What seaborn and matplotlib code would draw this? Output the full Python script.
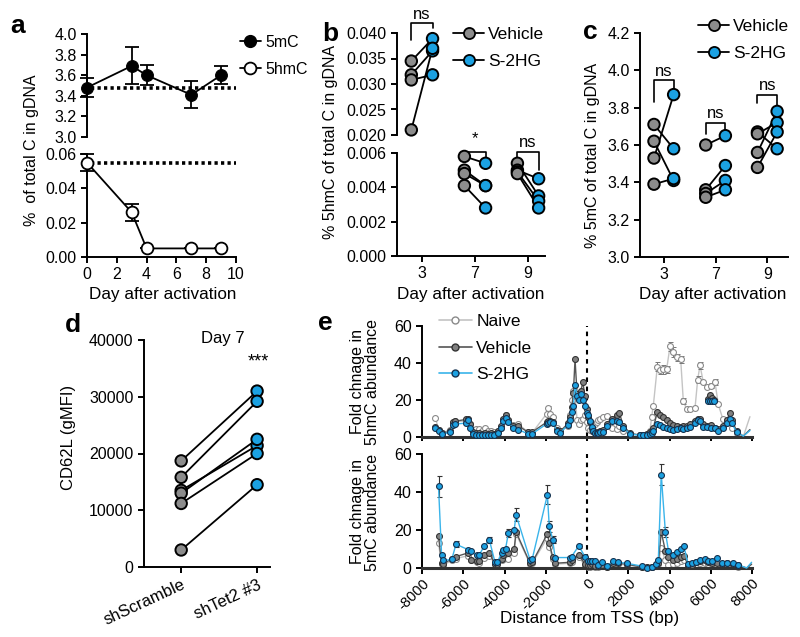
import numpy as np
import pandas as pd
import seaborn as sns
import matplotlib.pyplot as plt
from matplotlib.lines import Line2D

sns.set_style("ticks")
plt.rcParams['font.family'] = ['Liberation Sans', 'DejaVu Sans']
plt.rcParams.update({
    'axes.linewidth': 1.4, 'xtick.major.width': 1.4, 'ytick.major.width': 1.4,
    'xtick.major.size': 4, 'ytick.major.size': 4, 'font.size': 11.5,
    'xtick.labelsize': 11.5, 'ytick.labelsize': 11.5,
    'axes.edgecolor': 'black', 'xtick.color': 'black', 'ytick.color': 'black',
    'text.color': 'black', 'axes.labelcolor': 'black',
})

GREY = '#8c8c8c'
BLUE = '#1ba1e2'

# ---- a: global 5mC / 5hmC over time
a_days = [0, 3, 4, 7, 9]
a_5mc = [3.48, 3.69, 3.60, 3.41, 3.60]
a_5mc_err = [0.09, 0.18, 0.10, 0.13, 0.09]
a_5hmc = [0.055, 0.026, 0.005, 0.005, 0.005]
a_5hmc_err = [0.005, 0.005, 0.0, 0.0, 0.0]
a_5mc_base = 3.48
a_5hmc_base = 0.055

# ---- b: 5hmC, vehicle vs S-2HG (pairs)
day_labels = ['3', '7', '9']
b_vehicle = [[0.0345, 0.0318, 0.0308, 0.0210],
             [0.0058, 0.0050, 0.0048, 0.0041],
             [0.0054, 0.0050, 0.0049, 0.0048]]
b_s2hg = [[0.0389, 0.0365, 0.0318, 0.0370],
          [0.0054, 0.0041, 0.0041, 0.0028],
          [0.0035, 0.0045, 0.0032, 0.0028]]

# ---- c: 5mC, vehicle vs S-2HG (pairs)
c_vehicle = [[3.71, 3.62, 3.53, 3.39],
             [3.60, 3.36, 3.34, 3.32],
             [3.67, 3.66, 3.56, 3.48]]
c_s2hg = [[3.58, 3.41, 3.87, 3.42],
          [3.65, 3.49, 3.41, 3.36],
          [3.58, 3.72, 3.78, 3.67]]

# ---- d: CD62L day 7
d_groups = ['shScramble', 'shTet2 #3']
d_scramble = [18700, 15800, 13500, 13000, 11200, 3000]
d_tet2 = [31000, 29200, 21400, 22500, 20000, 14500]

# ---- e top: 5hmC fold change along the locus
e_top_pos = [-7350, -7200, -7050, -6640, -6500, -6400, -5870, -5750, -5670, -5530,
             -5400, -5250, -5100, -4950, -4800, -4650, -4500, -4320, -4190, -4060,
             -3930, -3810, -3570, -3330, -2840, -2680, -1960, -1890, -1800, -1630,
             -1470, -1310, -900, -820, -740, -660, -580, -480, -400, -300,
             -200, -100, -20, 60, 145, 225, 305, 390, 470, 550,
             630, 790, 955, 1200, 1440, 1570, 1760, 2100, 2570, 2730,
             2890, 3050, 3135, 3216, 3410, 3540, 3700, 3860, 4024, 4185,
             4380, 4542, 4670, 4830, 5000, 5236, 5366, 5479, 5640, 5800,
             5996, 6206, 6366, 6578, 6771, 6933, 7015, 7257, 7580, 7900]
e_top_naive = [10.5, 4, 2, 4, 7.5, 8.5, 8.5, 9.5, 7, 4,
               4.5, 4.5, 3, 5, 3, 3.5, 2.5, 3, 5, 9,
               12, 9, 6.5, 7, 2.5, 2, 12.5, 15.5, 12.5, 11,
               5, 3, 6, 12, 20, 25, 22, 9, 7, 9,
               9.5, 12, 8, 5, 4, 3, 4, 7, 8, 9,
               10, 11, 11.5, 5, 4.5, 6, 3, 1.5, 1, 1,
               1.5, 3, 11, 17, 38, 36, 36.5, 36.5, 49, 46,
               43, 42, 19.5, 15, 15, 15.5, 31, 38.7, 29.6, 27,
               27.8, 29.6, 17.6, 10, 9, 8, 5, 2, 0.3, 11]
e_top_vehicle = [5.5, 4, 2, 3, 8, 8.5, 9.5, 10, 7, 2.5,
                 2, 2, 1.5, 2, 1.5, 2, 1.5, 3, 6, 10,
                 12, 9, 6, 6, 2.5, 2.5, 8, 8.5, 8.5, 8,
                 4, 3, 7.5, 11, 16, 24, 42, 23, 21, 25,
                 29.5, 22, 15, 11, 8, 5, 3, 2, 2, 2.5,
                 3, 4, 7, 10, 12, 13, 6, 2, 1, 1,
                 1.5, 2.5, 3, 5, 13.5, 12, 11, 9, 7.5, 6.5,
                 6, 5.5, 6, 6, 7, 8.5, 10, 9.5, 7, 6,
                 6.5, 5, 4.5, 6, 9, 13, 9, 3, 0.5, 4]
e_top_s2hg = [4.8, 3.5, 1.5, 2.5, 6.5, 7, 7.5, 9, 5, 1.5,
              1, 1, 1, 1, 1, 1, 1, 2, 4.8, 8.5,
              10.5, 8, 4.7, 4, 1.6, 1.6, 7, 7.5, 8, 7.6,
              3.3, 2.3, 6.5, 9, 13.5, 17, 28, 22, 20, 23,
              20, 17, 13, 12, 8.5, 5.5, 3, 2, 2, 2,
              2.5, 2.5, 6, 8.5, 8.5, 8, 5, 1.5, 1, 1,
              1, 1.5, 2, 3, 7, 6.5, 5.5, 5, 4.5, 4,
              4.5, 4.6, 4.5, 5, 5.6, 7.4, 9, 8.7, 5.6, 5.2,
              4.6, 4.6, 3.5, 4.6, 7.4, 9.6, 7.4, 2.7, 0.5, 3.5]
e_top_naive_err_pos = [-1890, 3135, 3410, 3540, 3700, 3860, 4024, 4185, 4380, 4542,
                       4670, 5366, 5479, 5996, 6206]
e_top_naive_err = [1.5, 1.5, 2.5, 2, 2.5, 2, 2.5, 2.5, 2, 2,
                   1.5, 2, 2, 1.5, 1.5]
# separate probe cluster near +6 kb
e_top_extra_pos = [5870, 5960, 6050, 6140]
e_top_extra_vehicle = [20.5, 22.6, 21, 20]
e_top_extra_s2hg = [19.6, 19.6, 19.6, 19.6]

# ---- e bottom: 5mC fold change along the locus
e_bot_pos = [-7200, -7050, -6960, -6560, -6350, -5750, -5640, -5350, -5220, -4990,
             -4735, -4460, -4350, -4140, -4060, -3950, -3810, -3530, -3440, -2760,
             -2650, -1920, -1830, -1665, -1550, -840, -750, -400, -100, 60,
             150, 226, 388, 550, 712, 955, 1276, 1520, 1923, 2650,
             2890, 3135, 3345, 3458, 3600, 3800, 3950, 4185, 4350, 4540,
             4700, 4900, 5100, 5300, 5500, 5700, 5850, 6050, 6280, 6530,
             6800, 7060, 7340, 7740, 7980]
e_bot_naive = [13, 2, 1.5, 4, 5, 6.5, 4, 3, 2.5, 5.5,
               6.5, 2, 2, 4, 5, 7, 5, 8, 18, 2,
               2.5, 16, 11, 5, 2, 2.5, 3, 6, 1, 0.5,
               0.5, 1, 0.5, 0.5, 1, 0.5, 2, 2, 1.5, 0.5,
               0.3, 0.3, 1, 2, 10.5, 4, 1.5, 2, 2.5, 3.5,
               4, 1, 1, 2, 2.5, 2.5, 2, 2, 1.5, 1,
               1.5, 1, 0.5, 0, 2]
e_bot_vehicle = [17, 2.5, 2, 5, 6, 8, 4, 3.5, 3.5, 7,
                 8, 2, 2, 5, 7, 9, 8, 10, 19, 2.5,
                 3, 18, 13, 6, 2.5, 3, 4, 7, 2, 1.5,
                 1.5, 2, 1, 1, 1.5, 0.5, 2.5, 2.5, 2, 0.5,
                 0.3, 0.3, 1.5, 2.5, 19, 9, 6, 4, 5, 6,
                 6.5, 1.5, 1.5, 3, 3.5, 4, 3, 2.5, 2.5, 2,
                 2.5, 2, 1.5, 0, 2]
e_bot_s2hg = [43, 7, 4, 4.5, 12.5, 9.6, 8.7, 6.6, 7, 11.4,
              14.8, 3, 3, 8, 9.4, 10, 18.5, 20, 28, 4.3,
              5, 38.5, 22, 15, 5.5, 5.5, 6, 11.6, 6, 3.5,
              3.5, 3.5, 3.5, 1.7, 3, 1, 3.5, 3, 2.5, 1,
              0.2, 0.5, 2.3, 4, 49, 19, 9, 7, 8.5, 10,
              11.5, 2, 2.5, 3, 4, 4.5, 3.6, 3.5, 5.5, 2.6,
              2.5, 2.5, 1.7, 0, 3]
e_bot_s2hg_err_pos = [-7200, -6350, -4735, -3810, -3440, -1920, -1830, -1665, -400, 3600, 3800]
e_bot_s2hg_err = [5.5, 1.5, 1.5, 2, 3.5, 5, 3, 2, 1, 5.5, 2.5]


W, H = 800, 637


def box(x0, y0, x1, y1):
    return [x0 / W, 1 - y1 / H, (x1 - x0) / W, (y1 - y0) / H]


def fx(x):
    return x / W


def fy(y):
    return 1 - y / H


def paired_frame(veh, s2, off=0.2):
    rows = []
    for i, (vv, ss) in enumerate(zip(veh, s2)):
        for j, (v, s) in enumerate(zip(vv, ss)):
            rows.append(dict(x=i - off, y=v, pair=f'{i}-{j}', group='Vehicle'))
            rows.append(dict(x=i + off, y=s, pair=f'{i}-{j}', group='S-2HG'))
    return pd.DataFrame(rows)


def draw_pairs(ax, df, palette):
    sns.lineplot(data=df, x='x', y='y', units='pair', estimator=None, sort=False,
                 color='black', lw=1.3, ax=ax, legend=False)
    sns.scatterplot(data=df, x='x', y='y', hue='group', palette=palette, s=68,
                    edgecolor='black', linewidth=1.4, ax=ax, legend=False,
                    zorder=3, clip_on=False)


def bracket(ax, x0, x1, ytop, yl, yr, text, ty, size=12):
    ax.plot([x0, x0, x1, x1], [yl, ytop, ytop, yr], color='black', lw=1.2, clip_on=False)
    ax.text((x0 + x1) / 2, ty, text, ha='center', va='bottom', fontsize=size)


def clean(ax, bottom=True):
    sns.despine(ax=ax)
    if not bottom:
        ax.spines['bottom'].set_visible(False)
        ax.tick_params(axis='x', bottom=False, labelbottom=False)
    ax.set_xlabel('')
    ax.set_ylabel('')


fig = plt.figure(figsize=(8, 6.37), dpi=100)
pal = {'Vehicle': GREY, 'S-2HG': BLUE}
paired_handles = [
    Line2D([0], [0], color='black', lw=1.3, marker='o', ms=8, mfc=GREY, mec='black', mew=1.3),
    Line2D([0], [0], color='black', lw=1.3, marker='o', ms=8, mfc=BLUE, mec='black', mew=1.3),
]

# ================= a
ax_at = fig.add_axes(box(87, 34, 236, 137))
ax_ab = fig.add_axes(box(87, 154, 236, 257))
sns.lineplot(x=a_days, y=a_5mc, ax=ax_at, color='black', lw=1.3, marker='o', ms=8.5,
             mfc='black', mec='black', clip_on=False, zorder=3)
ax_at.errorbar(a_days, a_5mc, yerr=a_5mc_err, fmt='none', ecolor='black', elinewidth=1.3,
               capsize=5, capthick=1.3, clip_on=False)
ax_at.plot([0.3, 10], [a_5mc_base] * 2, color='black', lw=2.6, dashes=(0.9, 0.9))
ax_at.set_xlim(0, 10)
ax_at.set_ylim(3.0, 4.0)
ax_at.set_yticks(np.arange(3.0, 4.01, 0.2))
ax_at.set_yticklabels([f'{v:.1f}' for v in np.arange(3.0, 4.01, 0.2)])
clean(ax_at, bottom=False)

sns.lineplot(x=a_days, y=a_5hmc, ax=ax_ab, color='black', lw=1.3, marker='o', ms=8.5,
             mfc='white', mec='black', mew=1.3, clip_on=False, zorder=3)
ax_ab.errorbar(a_days, a_5hmc, yerr=a_5hmc_err, fmt='none', ecolor='black', elinewidth=1.3,
               capsize=5, capthick=1.3, clip_on=False, zorder=2)
ax_ab.plot([0.3, 10], [a_5hmc_base] * 2, color='black', lw=2.6, dashes=(0.9, 0.9))
ax_ab.set_xlim(0, 10)
ax_ab.set_ylim(0, 0.06)
ax_ab.set_yticks([0, 0.02, 0.04, 0.06])
ax_ab.set_yticklabels(['0.00', '0.02', '0.04', '0.06'])
ax_ab.set_xticks(range(0, 11, 2))
clean(ax_ab)
ax_at.legend([Line2D([0], [0], color='black', lw=1.3, marker='o', ms=8.5, mfc='black', mec='black'),
              Line2D([0], [0], color='black', lw=1.3, marker='o', ms=8.5, mfc='white', mec='black', mew=1.3)],
             ['5mC', '5hmC'], loc='upper left', bbox_to_anchor=(fx(240), fy(35)),
             bbox_transform=fig.transFigure, frameon=False, handlelength=1.3,
             handletextpad=0.3, labelspacing=0.75, borderpad=0, borderaxespad=0, fontsize=11.5)
fig.text(fx(32), fy(150), '%  of total C in gDNA', rotation=90, ha='center', va='center', fontsize=11.5)
fig.text(fx(163), fy(295), 'Day after activation', ha='center', va='center', fontsize=12.3)

# ================= b
dfb = paired_frame(b_vehicle, b_s2hg)
ax_bt = fig.add_axes(box(397, 33, 545, 135))
ax_bb = fig.add_axes(box(397, 153, 545, 256))
draw_pairs(ax_bt, dfb[dfb['x'] < 0.5], pal)
draw_pairs(ax_bb, dfb[dfb['x'] > 0.5], pal)
for ax in (ax_bt, ax_bb):
    ax.set_xlim(-0.47, 2.32)
ax_bt.set_ylim(0.020, 0.040)
ax_bt.set_yticks(np.arange(0.020, 0.0401, 0.005))
ax_bt.set_yticklabels([f'{v:.3f}' for v in np.arange(0.020, 0.0401, 0.005)])
clean(ax_bt, bottom=False)
ax_bb.set_ylim(0, 0.006)
ax_bb.set_yticks([0, 0.002, 0.004, 0.006])
ax_bb.set_yticklabels(['0.000', '0.002', '0.004', '0.006'])
ax_bb.set_xticks(range(3))
ax_bb.set_xticklabels(day_labels)
clean(ax_bb)
bracket(ax_bt, -0.2, 0.2, 0.04196, 0.0386, 0.0410, 'ns', 0.0421)
bracket(ax_bb, 0.8, 1.2, 0.00606, 0.0056, 0.0057, '*', 0.0064)
bracket(ax_bb, 1.8, 2.2, 0.00603, 0.0056, 0.0050, 'ns', 0.0062)
ax_bt.legend(paired_handles, ['Vehicle', 'S-2HG'], loc='upper left',
             bbox_to_anchor=(fx(453), fy(27)), bbox_transform=fig.transFigure,
             frameon=False, handlelength=1.8, handletextpad=0.2, labelspacing=0.7,
             borderpad=0, borderaxespad=0, fontsize=12.5)
fig.text(fx(330), fy(142), '% 5hmC of total C in gDNA', rotation=90, ha='center', va='center', fontsize=11.5)
fig.text(fx(471), fy(295), 'Day after activation', ha='center', va='center', fontsize=12.3)

# ================= c
dfc = paired_frame(c_vehicle, c_s2hg, off=0.19)
ax_c = fig.add_axes(box(640, 33, 788, 257))
draw_pairs(ax_c, dfc, pal)
ax_c.set_xlim(-0.46, 2.4)
ax_c.set_ylim(3.0, 4.2)
ax_c.set_yticks(np.arange(3.0, 4.21, 0.2))
ax_c.set_yticklabels([f'{v:.1f}' for v in np.arange(3.0, 4.21, 0.2)])
ax_c.set_xticks(range(3))
ax_c.set_xticklabels(day_labels)
clean(ax_c)
bracket(ax_c, -0.19, 0.19, 3.948, 3.83, 3.905, 'ns', 3.955)
bracket(ax_c, 0.81, 1.19, 3.72, 3.66, 3.67, 'ns', 3.73)
bracket(ax_c, 1.81, 2.19, 3.87, 3.825, 3.80, 'ns', 3.88)
ax_c.legend(paired_handles, ['Vehicle', 'S-2HG'], loc='upper left',
            bbox_to_anchor=(fx(698), fy(19)), bbox_transform=fig.transFigure,
            frameon=False, handlelength=1.8, handletextpad=0.2, labelspacing=0.7,
            borderpad=0, borderaxespad=0, fontsize=12.5)
fig.text(fx(592), fy(155), '% 5mC of total C in gDNA', rotation=90, ha='center', va='center', fontsize=11.5)
fig.text(fx(713), fy(295), 'Day after activation', ha='center', va='center', fontsize=12.3)

# ================= d
dfd = paired_frame([d_scramble], [d_tet2], off=0.0)
dfd['x'] = np.where(dfd['group'] == 'Vehicle', 0, 1)
ax_d = fig.add_axes(box(144, 340, 270, 567))
draw_pairs(ax_d, dfd, pal)
ax_d.set_xlim(-0.49, 1.17)
ax_d.set_ylim(0, 40000)
ax_d.set_yticks(range(0, 40001, 10000))
ax_d.set_xticks([0, 1])
ax_d.set_xticklabels(d_groups, rotation=25, ha='right', rotation_mode='anchor', fontsize=12)
clean(ax_d)
fig.text(fx(223), fy(339), 'Day 7', ha='center', va='center', fontsize=12)
fig.text(fx(258), fy(370), '***', ha='center', va='bottom', fontsize=13)
fig.text(fx(68), fy(437), 'CD62L (gMFI)', rotation=90, ha='center', va='center', fontsize=12)

# ================= e
NAIVE_LINE, NAIVE_EDGE = '#c4c4c4', '#8a8a8a'
VEH_LINE, VEH_FACE, VEH_EDGE = '#555555', '#808080', '#333333'
S_LINE, S_EDGE = '#3ab4ea', '#16324f'


def draw_track(ax, pos, vals, line, face, edge, z):
    df = pd.DataFrame({'pos': pos, 'val': vals})
    sns.lineplot(data=df, x='pos', y='val', color=line, lw=1.0, ax=ax, sort=False,
                 legend=False, zorder=z, clip_on=False)
    pts = df[df['pos'] < 7400]
    sns.scatterplot(data=pts, x='pos', y='val', color=face, edgecolor=edge, s=18,
                    linewidth=0.8, ax=ax, legend=False, zorder=z + 0.5, clip_on=False)


ax_et = fig.add_axes(box(422, 326, 752, 437))
ax_eb = fig.add_axes(box(422, 454, 752, 568))

draw_track(ax_et, e_top_pos, e_top_naive, NAIVE_LINE, 'white', NAIVE_EDGE, 2)
ax_et.errorbar(e_top_naive_err_pos,
               [e_top_naive[e_top_pos.index(p)] for p in e_top_naive_err_pos],
               yerr=e_top_naive_err, fmt='none', ecolor='#777777', elinewidth=0.7,
               capsize=1.8, capthick=0.7, zorder=2)
draw_track(ax_et, e_top_pos, e_top_vehicle, VEH_LINE, VEH_FACE, VEH_EDGE, 3)
draw_track(ax_et, e_top_pos, e_top_s2hg, S_LINE, BLUE, S_EDGE, 4)
sns.scatterplot(x=e_top_extra_pos, y=e_top_extra_vehicle, color=VEH_FACE, edgecolor=VEH_EDGE,
                s=18, linewidth=0.8, ax=ax_et, legend=False, zorder=3.5)
sns.scatterplot(x=e_top_extra_pos, y=e_top_extra_s2hg, color=BLUE, edgecolor=S_EDGE,
                s=18, linewidth=0.8, ax=ax_et, legend=False, zorder=4.5)

draw_track(ax_eb, e_bot_pos, e_bot_naive, NAIVE_LINE, 'white', NAIVE_EDGE, 2)
draw_track(ax_eb, e_bot_pos, e_bot_vehicle, VEH_LINE, VEH_FACE, VEH_EDGE, 3)
ax_eb.errorbar(e_bot_s2hg_err_pos,
               [e_bot_s2hg[e_bot_pos.index(p)] for p in e_bot_s2hg_err_pos],
               yerr=e_bot_s2hg_err, fmt='none', ecolor='#333333', elinewidth=0.8,
               capsize=1.8, capthick=0.8, zorder=3.8)
draw_track(ax_eb, e_bot_pos, e_bot_s2hg, S_LINE, BLUE, S_EDGE, 4)

for ax in (ax_et, ax_eb):
    ax.set_xlim(-8000, 8000)
    ax.set_ylim(0, 60)
    ax.set_yticks([0, 20, 40, 60])
    ax.set_xticks(range(-8000, 8001, 2000))
    ax.axvline(0, color='black', lw=1.5, ls=(0, (2.2, 2.2)), zorder=1)
    clean(ax)
    ax.spines['bottom'].set_linewidth(2.2)
    ax.spines['bottom'].set_color('#333333')
ax_et.tick_params(axis='x', labelbottom=False, length=3)
ax_eb.tick_params(axis='x', pad=2)
ax_eb.set_xticklabels([str(v) for v in range(-8000, 8001, 2000)], rotation=45,
                      ha='right', rotation_mode='anchor', fontsize=10.5)
fig.text(fx(590), fy(619), 'Distance from TSS (bp)', ha='center', va='center', fontsize=12.3)

ax_et.legend([Line2D([0], [0], color=NAIVE_LINE, lw=1.2, marker='o', ms=5, mfc='white', mec=NAIVE_EDGE),
              Line2D([0], [0], color=VEH_LINE, lw=1.2, marker='o', ms=5, mfc=VEH_FACE, mec=VEH_EDGE),
              Line2D([0], [0], color=S_LINE, lw=1.2, marker='o', ms=5, mfc=BLUE, mec=S_EDGE)],
             ['Naive', 'Vehicle', 'S-2HG'], loc='upper left',
             bbox_to_anchor=(fx(439), fy(314)), bbox_transform=fig.transFigure,
             frameon=False, handlelength=1.9, handletextpad=0.25, labelspacing=0.65,
             borderpad=0, borderaxespad=0, fontsize=12.5)
fig.text(fx(365), fy(382), 'Fold chnage in\n5hmC abundance', rotation=90,
         ha='center', va='center', fontsize=11.5, linespacing=1.05)
fig.text(fx(365), fy(512), 'Fold chnage in\n5mC abundance', rotation=90,
         ha='center', va='center', fontsize=11.5, linespacing=1.05)

# panel letters
for lab, x, y in [('a', 10, 33), ('b', 322, 41), ('c', 583, 39), ('d', 65, 332), ('e', 318, 330)]:
    fig.text(fx(x), fy(y), lab, fontsize=19, fontweight='bold', ha='left', va='baseline')

fig.savefig('out.png', dpi=100)
